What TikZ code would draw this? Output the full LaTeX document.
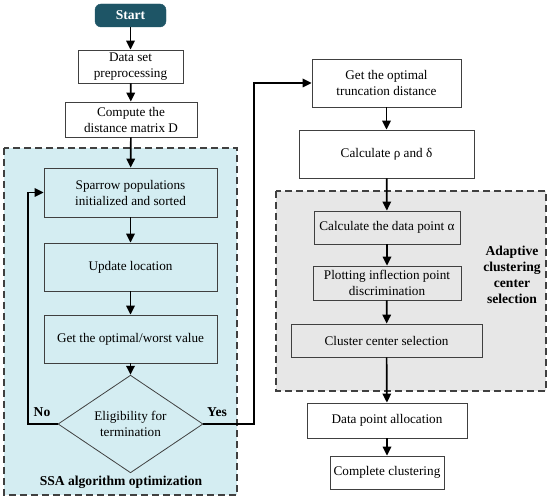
\documentclass[tikz,border=0pt]{standalone}
\usepackage{fontspec}
\setmainfont{Liberation Serif}
\usetikzlibrary{shapes.geometric,arrows.meta}
\definecolor{startfill}{HTML}{1E5566}
\definecolor{bluebg}{HTML}{D4EDF2}
\definecolor{graybg}{HTML}{E7E7E7}
\definecolor{edgegray}{HTML}{404040}
\begin{document}
\begin{tikzpicture}[x=1pt,y=-1pt,
  font=\fontsize{13.2}{16}\selectfont,
  box/.style={draw=edgegray,line width=0.8pt,align=center,inner sep=1pt},
  wbox/.style={box,fill=white},
  bbox/.style={box,fill=bluebg},
  gbox/.style={box,fill=graybg},
  grp/.style={draw=edgegray,line width=1.2pt,dash pattern=on 7pt off 4pt},
  arr/.style={line width=1.7pt,-{Triangle[length=9pt,width=8.5pt]}},
  lbl/.style={font=\fontsize{13.6}{16}\selectfont\bfseries,align=center}]
\useasboundingbox (0,0) rectangle (550,500);
% group backgrounds
\draw[grp,fill=bluebg] (4,148) rectangle (237,495);
\draw[grp,fill=graybg] (276,191) rectangle (546,391);
% left column
\node[draw=startfill,fill=startfill,rounded corners=6pt,minimum width=71pt,minimum height=23pt,text=white,font=\fontsize{13.6}{16}\selectfont\bfseries] (start) at (130.5,15.5) {Start};
\node[wbox,minimum width=105pt,minimum height=33pt] (ds) at (130.5,66.5) {Data set\\preprocessing};
\node[wbox,minimum width=132pt,minimum height=35pt] (cm) at (131,119.5) {Compute the\\distance matrix D};
\node[bbox,minimum width=173pt,minimum height=49pt] (sp) at (130.5,192.5) {Sparrow populations\\initialized and sorted};
\node[bbox,minimum width=173pt,minimum height=48pt] (ul) at (130.5,267) {Update location};
\node[bbox,minimum width=173pt,minimum height=48pt] (gv) at (130.5,339) {Get the optimal/worst value};
\node[diamond,draw=edgegray,line width=0.8pt,fill=bluebg,inner sep=0pt,minimum width=145pt,minimum height=82pt,align=center] (dm) at (130.5,424) {Eligibility for\\termination};
\node[lbl] (no) at (42,412) {No};
\node[lbl] (yes) at (217,412) {Yes};
\node[lbl] (ssa) at (121,482) {SSA algorithm optimization};
% right column
\node[wbox,minimum width=149pt,minimum height=48pt] (got) at (386.5,83) {Get the optimal\\truncation distance};
\node[wbox,minimum width=175pt,minimum height=48pt] (crd) at (386.5,154) {Calculate ρ and δ};
\node[gbox,minimum width=146pt,minimum height=33pt] (cda) at (387,227.5) {Calculate the data point α};
\node[gbox,minimum width=148pt,minimum height=34pt] (pl) at (387,283) {Plotting inflection point\\discrimination};
\node[gbox,minimum width=191pt,minimum height=33pt] (cc) at (386.5,340.5) {Cluster center selection};
\node[wbox,minimum width=160pt,minimum height=35pt] (dpa) at (387,420.5) {Data point allocation};
\node[wbox,minimum width=114pt,minimum height=33pt] (cmp) at (387,472.5) {Complete clustering};
\node[lbl] (acs) at (512,275) {Adaptive\\clustering\\center\\selection};
% connectors
\coordinate (lx) at (28,424);
\coordinate (rx) at (254,424);
\draw[arr] (start) -- (ds);
\draw[arr] (ds) -- (cm);
\draw[arr] (cm) -- (sp);
\draw[arr] (sp) -- (ul);
\draw[arr] (ul) -- (gv);
\draw[arr] (gv) -- (dm);
\draw[arr] (dm.west) -- (lx) |- (sp.west);
\draw[arr] (dm.east) -- (rx) |- (got.west);
\draw[arr] (got) -- (crd);
\draw[arr] (crd) -- (cda);
\draw[arr] (cda) -- (pl);
\draw[arr] (pl) -- (cc);
\draw[arr] (cc) -- (dpa);
\draw[arr] (dpa) -- (cmp);
\end{tikzpicture}
\end{document}
